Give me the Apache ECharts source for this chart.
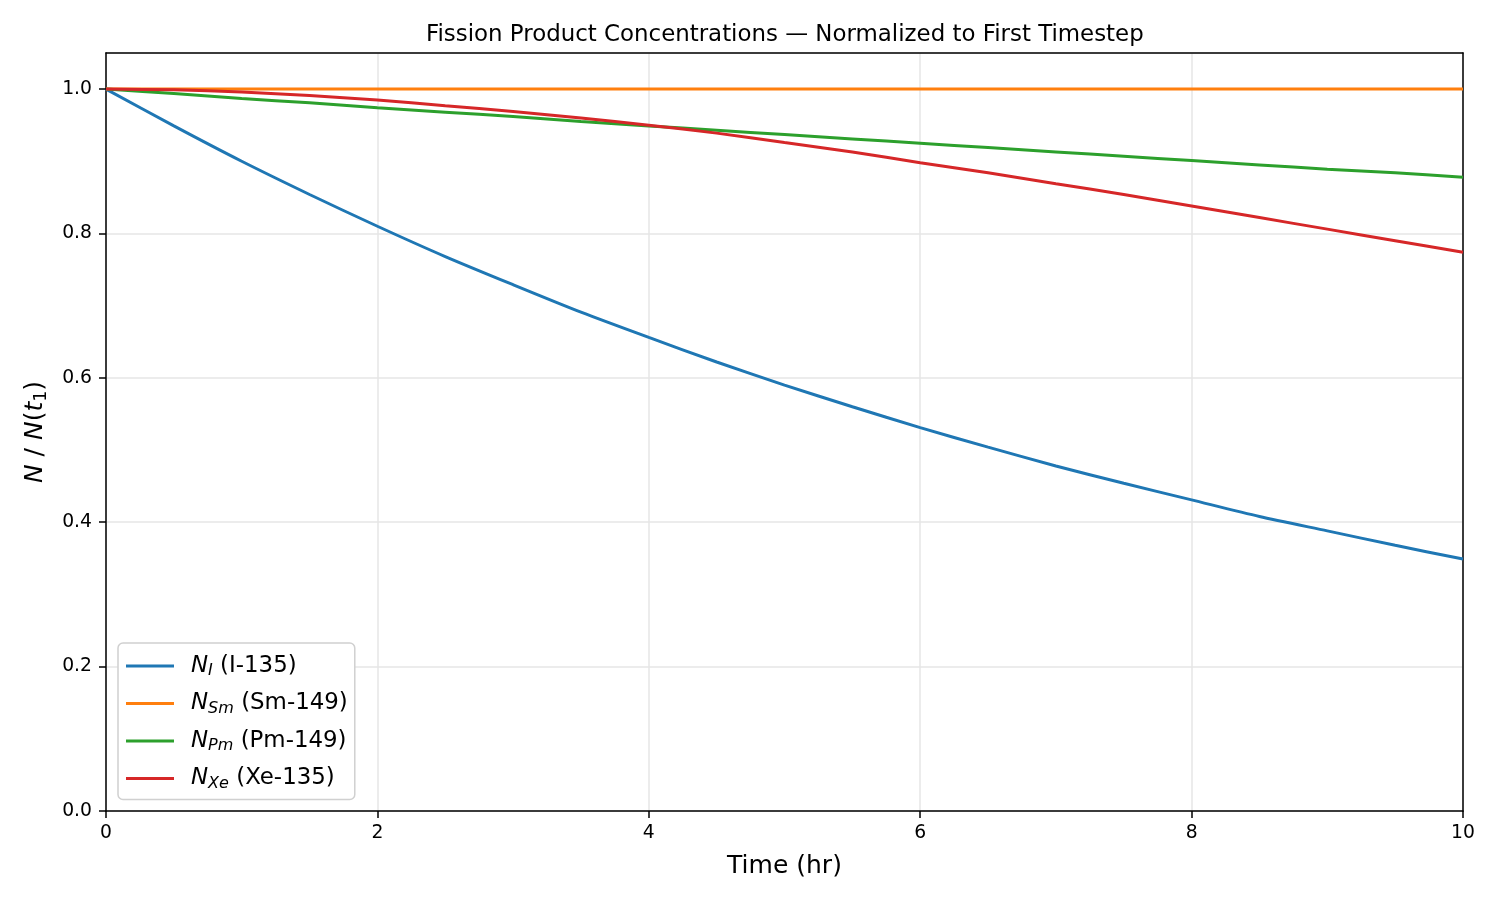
<!DOCTYPE html>
<html>
<head>
<meta charset="utf-8">
<script src="https://cdn.jsdelivr.net/npm/echarts@6/dist/echarts.min.js"></script>
<style>
  html, body { margin: 0; padding: 0; background: #fff; }
  #chart { width: 1500px; height: 900px; }
</style>
</head>
<body>
<div id="chart"></div>
<script>
// time axis (hr), sampled every 0.5 h
const hours = [0, 0.5, 1, 1.5, 2, 2.5, 3, 3.5, 4, 4.5, 5, 5.5, 6, 6.5, 7, 7.5, 8, 8.5, 9, 9.5, 10];

// normalized concentrations
const iodine = [1.0, 0.949, 0.900, 0.854, 0.810, 0.768, 0.729, 0.691, 0.656, 0.622, 0.590,
  0.560, 0.531, 0.504, 0.478, 0.454, 0.431, 0.408, 0.388, 0.368, 0.349];
const samarium = [1.0, 1.0, 1.0, 1.0, 1.0, 1.0, 1.0, 1.0, 1.0, 1.0, 1.0,
  1.0, 1.0, 1.0, 1.0, 1.0, 1.0, 1.0, 1.0, 1.0, 1.0];
const promethium = [1.0, 0.994, 0.987, 0.981, 0.974, 0.968, 0.962, 0.955, 0.949, 0.943, 0.937,
  0.931, 0.925, 0.919, 0.913, 0.907, 0.901, 0.895, 0.889, 0.884, 0.878];
const xenon = [1.0, 0.999, 0.996, 0.991, 0.985, 0.977, 0.969, 0.960, 0.950, 0.939, 0.926,
  0.913, 0.898, 0.884, 0.869, 0.854, 0.838, 0.822, 0.806, 0.790, 0.774];

const seriesNames = ["I-135", "Sm-149", "Pm-149", "Xe-135"];
const subscripts = ["I", "Sm", "Pm", "Xe"];
const colors = ["#1f77b4", "#ff7f0e", "#2ca02c", "#d62728"];

const FONT = "DejaVu Sans";

const chart = echarts.init(document.getElementById("chart"));

function pairs(ys) {
  return hours.map((h, i) => [h, ys[i]]);
}

const allData = [iodine, samarium, promethium, xenon];

// plain black line for the top / right frame
const frameAxis = {
  axisLine: { show: true, onZero: false, lineStyle: { color: "#000", width: 1.5 } },
  axisTick: { show: false },
  axisLabel: { show: false },
  splitLine: { show: false },
};

chart.setOption({
  animation: false,
  color: colors,
  title: {
    text: "Fission Product Concentrations — Normalized to First Timestep",
    left: 421,
    top: 19,
    textStyle: { fontFamily: FONT, fontSize: 22.9, fontWeight: "normal", color: "#000" },
  },
  grid: {
    left: 106, right: 37, top: 53, bottom: 89,
  },
  legend: {
    orient: "vertical",
    left: 118,
    top: 643,
    padding: [9, 7, 7, 8],
    backgroundColor: "#fff",
    borderColor: "#d0d0d0",
    borderWidth: 1.5,
    borderRadius: 5,
    itemWidth: 48,
    itemHeight: 3,
    itemGap: 9.5,
    icon: "rect",
    data: seriesNames,
    formatter: (name) => {
      const i = seriesNames.indexOf(name);
      return "{g| }{n|N}{s|" + subscripts[i] + "} {t|(" + name + ")}";
    },
    textStyle: {
      fontFamily: FONT,
      fontSize: 22.9,
      color: "#000",
      lineHeight: 28,
      rich: {
        g: { width: 12, fontSize: 22.9, lineHeight: 28 },
        n: { fontFamily: FONT, fontSize: 22.9, fontStyle: "italic", color: "#000", lineHeight: 28 },
        s: { fontFamily: FONT, fontSize: 16, fontStyle: "italic", color: "#000", lineHeight: 28, padding: [10, 0, 0, 0] },
        t: { fontFamily: FONT, fontSize: 22.9, color: "#000", lineHeight: 28 },
      },
    },
  },
  xAxis: [
    {
      type: "value",
      min: 0,
      max: 10,
      interval: 2,
      name: "Time (hr)",
      nameLocation: "middle",
      nameGap: 43,
      nameTextStyle: { fontFamily: FONT, fontSize: 25, color: "#000" },
      axisLine: { show: true, lineStyle: { color: "#000", width: 1.5 } },
      axisTick: { show: true, length: 7, lineStyle: { color: "#000", width: 1.5 } },
      axisLabel: { fontFamily: FONT, fontSize: 18.75, color: "#000", margin: 13 },
      splitLine: { show: true, lineStyle: { color: "#e6e6e6", width: 1.5 } },
    },
    Object.assign({ type: "value", position: "top", min: 0, max: 10 }, frameAxis),
  ],
  yAxis: [
    {
      type: "value",
      min: 0,
      max: 1.05,
      interval: 0.2,
      name: "{i|N} / {i|N}({i|t}{s|1})",
      nameLocation: "middle",
      nameGap: 56,
      nameRotate: 90,
      nameTextStyle: {
        fontFamily: FONT,
        fontSize: 25,
        color: "#000",
        rich: {
          i: { fontFamily: FONT, fontSize: 25, fontStyle: "italic", color: "#000" },
          s: { fontFamily: FONT, fontSize: 17.5, color: "#000", padding: [11, 0, 0, 0] },
        },
      },
      axisLine: { show: true, lineStyle: { color: "#000", width: 1.5 } },
      axisTick: { show: true, length: 7, lineStyle: { color: "#000", width: 1.5 } },
      axisLabel: {
        fontFamily: FONT, fontSize: 18.75, color: "#000", margin: 14,
        showMaxLabel: false,
        formatter: (v) => v.toFixed(1),
      },
      splitLine: { show: true, lineStyle: { color: "#e6e6e6", width: 1.5 } },
    },
    Object.assign({ type: "value", position: "right", min: 0, max: 1.05 }, frameAxis),
  ],
  series: seriesNames.map((name, i) => ({
    name: name,
    type: "line",
    data: pairs(allData[i]),
    showSymbol: false,
    symbol: "none",
    smooth: 0.25,
    lineStyle: { width: 3, color: colors[i] },
    itemStyle: { color: colors[i] },
    z: 2 + i,
  })),
});
</script>
</body>
</html>
